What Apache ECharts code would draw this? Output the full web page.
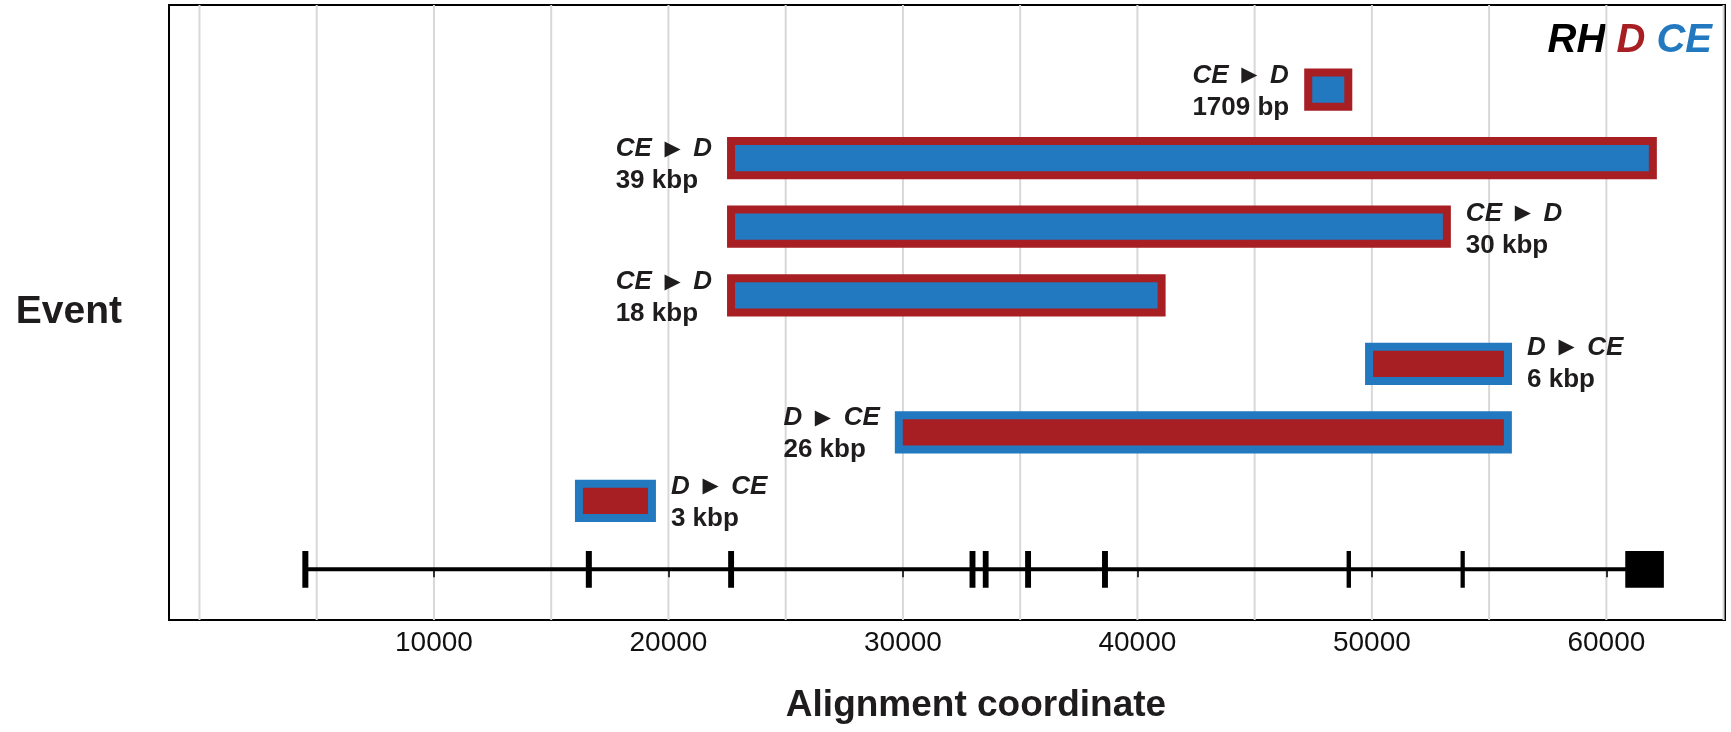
<!DOCTYPE html>
<html>
<head>
<meta charset="utf-8">
<script src="https://cdn.jsdelivr.net/npm/echarts@6/dist/echarts.min.js"></script>
<style>
  html, body { margin: 0; padding: 0; background: #ffffff; }
  #chart { width: 1731px; height: 732px; }
</style>
</head>
<body>
<div id="chart"></div>
<script>
// Gene conversion events between RHD and RHCE, placed on the alignment
const eventRow       = [7, 6, 5, 4, 3, 2, 1];
const eventStart     = [47285, 22670, 22670, 22670, 49880, 29825, 16183];
const eventEnd       = [48994, 61983, 53198, 41032, 55805, 55800, 19296];
const eventDonor     = ['CE', 'CE', 'CE', 'CE', 'D', 'D', 'D'];
const eventAcceptor  = ['D', 'D', 'D', 'D', 'CE', 'CE', 'CE'];
const eventSize      = ['1709 bp', '39 kbp', '30 kbp', '18 kbp', '6 kbp', '26 kbp', '3 kbp'];
const eventLabelSide = ['left', 'left', 'right', 'left', 'right', 'left', 'right'];

// Exon model of the gene, drawn on the bottom row
const exonStart = [4440, 16530, 22600, 32895, 33460, 35265, 38545, 48975, 53835, 60860];
const exonEnd   = [4590, 16680, 22745, 33040, 33600, 35410, 38690, 49055, 53910, 62400];

// Axis ticks and background grid positions
const xTickValues = [10000, 20000, 30000, 40000, 50000, 60000];
const gridValues  = [0, 5000, 10000, 15000, 20000, 25000, 30000, 35000, 40000, 45000, 50000, 55000, 60000, 65000];

const RED = '#a71e23';
const BLUE = '#2279bf';
const TEXT = '#1f1c1d';
const FONT = '"Liberation Sans", Arial, Helvetica, sans-serif';
const alleleColor = { D: RED, CE: BLUE };

// small vertical nudges (px) keeping a few labels clear of their neighbours
const labelNudge = [0, 5, 1, 1, -2, 0, 0];

const chart = echarts.init(document.getElementById('chart'), null, { renderer: 'canvas' });

function renderGrid(params, api) {
  const cs = params.coordSys;
  const x = api.coord([api.value(0), 0])[0];
  return {
    type: 'line',
    silent: true,
    shape: { x1: x, y1: cs.y, x2: x, y2: cs.y + cs.height },
    style: { stroke: '#d8d8d8', lineWidth: 2 }
  };
}

function renderExon(params, api) {
  const a = api.coord([api.value(0), 0.25]);
  const b = api.coord([api.value(1), -0.25]);
  return {
    type: 'rect',
    shape: { x: a[0], y: a[1], width: b[0] - a[0], height: b[1] - a[1] },
    style: { fill: '#000000', stroke: '#000000', lineWidth: 2.5 }
  };
}

function renderEvent(params, api) {
  const i = params.dataIndex;
  const row = api.value(2);
  const a = api.coord([api.value(0), row + 0.25]);
  const b = api.coord([api.value(1), row - 0.25]);
  const donor = eventDonor[i];
  const acceptor = eventAcceptor[i];
  const side = eventLabelSide[i];
  const cy = (a[1] + b[1]) / 2 + 2 + labelNudge[i];
  const tx = side === 'left' ? a[0] - 19 : b[0] + 19;
  return {
    type: 'group',
    children: [
      {
        type: 'rect',
        shape: { x: a[0], y: a[1], width: b[0] - a[0], height: b[1] - a[1] },
        style: { fill: alleleColor[donor], stroke: alleleColor[acceptor], lineWidth: 8 }
      },
      {
        type: 'text',
        style: {
          x: tx,
          y: cy,
          text: '{it|' + donor + '}{ar| \u25B6 }{it|' + acceptor + '}\n{sz|' + eventSize[i] + '}',
          align: side === 'left' ? 'right' : 'left',
          verticalAlign: 'middle',
          fill: TEXT,
          rich: {
            it: { align: 'left', fontFamily: FONT, fontSize: 26, fontWeight: 'bold', fontStyle: 'italic', fill: TEXT, lineHeight: 32 },
            ar: { align: 'left', fontFamily: '"DejaVu Sans", sans-serif', fontSize: 21, fill: TEXT, lineHeight: 32, padding: [0, 6, 0, 6] },
            sz: { align: 'left', fontFamily: FONT, fontSize: 26, fontWeight: 'bold', fill: TEXT, lineHeight: 32 }
          }
        }
      }
    ]
  };
}

const option = {
  animation: false,
  backgroundColor: '#ffffff',
  grid: {
    left: 169, right: 6, top: 5, bottom: 112,
    show: true, borderColor: '#000000', borderWidth: 2, backgroundColor: 'transparent'
  },
  xAxis: {
    type: 'value',
    min: -1300,
    max: 65060,
    name: 'Alignment coordinate',
    nameLocation: 'middle',
    nameGap: 67,
    nameTextStyle: { fontFamily: FONT, fontSize: 37, fontWeight: 'bold', color: TEXT, padding: [0, 0, 0, 58] },
    axisLine: { show: false },
    axisTick: { show: true, customValues: xTickValues, length: 8, lineStyle: { color: '#333333', width: 2 } },
    axisLabel: {
      customValues: xTickValues,
      formatter: v => String(v),
      fontFamily: FONT, fontSize: 28, color: '#111111', margin: 9
    },
    splitLine: { show: false }
  },
  yAxis: {
    type: 'value',
    min: -0.739,
    max: 8.236,
    name: 'Event',
    nameLocation: 'middle',
    nameRotate: 0,
    nameGap: 47,
    nameTextStyle: { fontFamily: FONT, fontSize: 39, fontWeight: 'bold', color: TEXT, padding: [8, 0, 0, 0] },
    axisLine: { show: false },
    axisTick: { show: false },
    axisLabel: { show: false },
    splitLine: { show: false }
  },
  graphic: [
    {
      type: 'text',
      right: 19,
      top: 21,
      style: {
        text: '{k|RH} {r|D} {b|CE}',
        rich: {
          k: { fontFamily: FONT, fontSize: 40, fontWeight: 'bold', fontStyle: 'italic', fill: '#000000' },
          r: { fontFamily: FONT, fontSize: 40, fontWeight: 'bold', fontStyle: 'italic', fill: RED },
          b: { fontFamily: FONT, fontSize: 40, fontWeight: 'bold', fontStyle: 'italic', fill: BLUE }
        },
        font: 'italic bold 40px ' + FONT
      }
    }
  ],
  series: [
    {
      type: 'custom',
      name: 'grid',
      silent: true,
      z: 0,
      renderItem: renderGrid,
      data: gridValues.map(v => [v]),
      encode: { x: 0 }
    },
    {
      type: 'line',
      name: 'gene',
      z: 2,
      showSymbol: false,
      silent: true,
      lineStyle: { color: '#000000', width: 4 },
      data: [[exonStart[0], 0], [exonEnd[exonEnd.length - 1], 0]]
    },
    {
      type: 'custom',
      name: 'exons',
      z: 3,
      renderItem: renderExon,
      data: exonStart.map((s, k) => [s, exonEnd[k], 0]),
      encode: { x: [0, 1], y: 2 }
    },
    {
      type: 'custom',
      name: 'events',
      z: 4,
      renderItem: renderEvent,
      data: eventStart.map((s, k) => [s, eventEnd[k], eventRow[k]]),
      encode: { x: [0, 1], y: 2 }
    }
  ]
};

chart.setOption(option);
</script>
</body>
</html>
